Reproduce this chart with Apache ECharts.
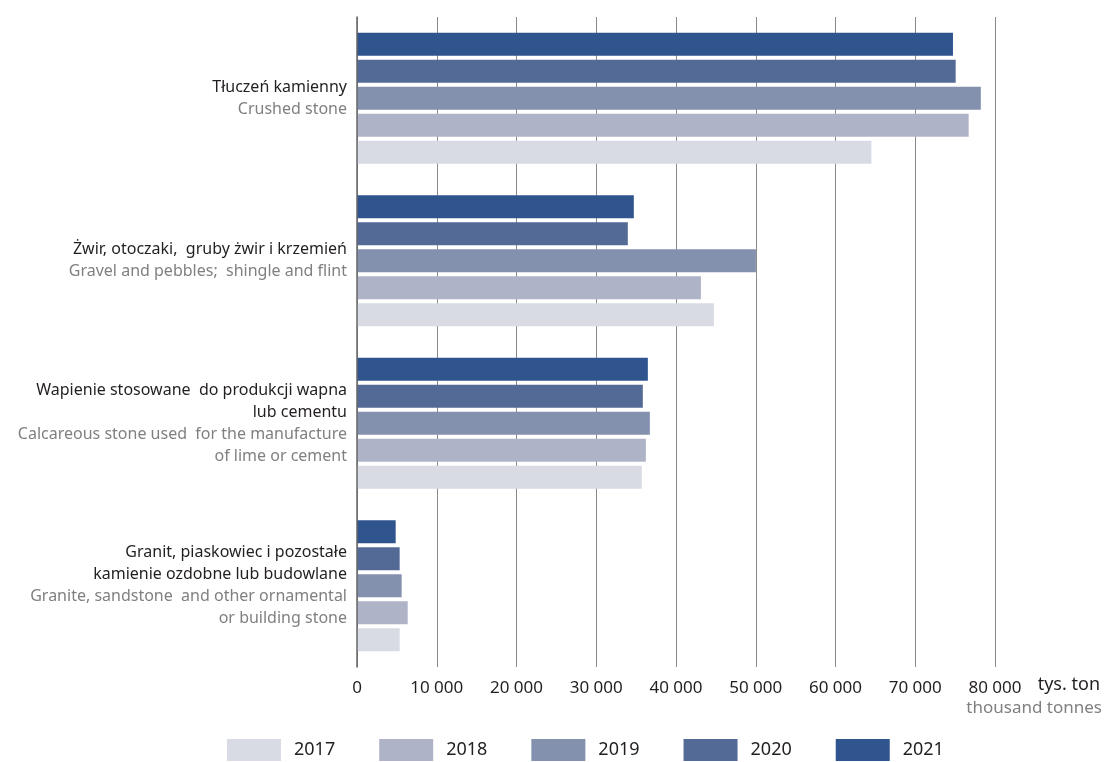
<!DOCTYPE html>
<html>
<head>
<meta charset="utf-8">
<script src="https://cdn.jsdelivr.net/npm/echarts@6/dist/echarts.min.js"></script>
<style>
html,body{margin:0;padding:0;background:#fff;}
#c{width:1106px;height:762px;}
</style>
</head>
<body>
<div id="c"></div>
<script>
const categories = ['crushed', 'gravel', 'calcareous', 'granite'];
const plLabels = [
  'Tłuczeń kamienny',
  'Żwir, otoczaki,  gruby żwir i krzemień',
  'Wapienie stosowane  do produkcji wapna\nlub cementu',
  'Granit, piaskowiec i pozostałe\nkamienie ozdobne lub budowlane'
];
const enLabels = [
  'Crushed stone',
  'Gravel and pebbles;  shingle and flint',
  'Calcareous stone used  for the manufacture\nof lime or cement',
  'Granite, sandstone  and other ornamental\nor building stone'
];
const years = ['2017', '2018', '2019', '2020', '2021'];
const v2017 = [64500, 44750, 35710, 5350];
const v2018 = [76700, 43120, 36220, 6360];
const v2019 = [78220, 50020, 36720, 5600];
const v2020 = [75070, 33960, 35840, 5350];
const v2021 = [74730, 34710, 36470, 4850];
const xTicks = [0, 10000, 20000, 30000, 40000, 50000, 60000, 70000, 80000];
const unitPl = 'tys. ton';
const unitEn = 'thousand tonnes';

const colors = {'2017':'#d8dbe4','2018':'#aeb3c7','2019':'#8390ae','2020':'#536a97','2021':'#2f548e'};
const valuesByYear = {'2017':v2017,'2018':v2018,'2019':v2019,'2020':v2020,'2021':v2021};
const FONT = 'Noto Sans';

const fmt = n => String(n).replace(/\B(?=(\d{3})+(?!\d))/g, ' ');

const seriesOrder = ['2021','2020','2019','2018','2017'];
const series = seriesOrder.map(y => ({
  name: y,
  type: 'bar',
  data: valuesByYear[y],
  barWidth: 23,
  barGap: '17.4%',
  itemStyle: {color: colors[y]},
  emphasis: {disabled: true}
}));

const chart = echarts.init(document.getElementById('c'), null, {renderer: 'canvas'});
chart.setOption({
  backgroundColor: '#ffffff',
  animation: false,
  color: years.map(y => colors[y]),
  textStyle: {fontFamily: FONT},
  grid: {left: 357, right: 111, top: 17, bottom: 95, containLabel: false},
  legend: {
    data: years,
    left: 222,
    top: 734,
    itemWidth: 54,
    itemHeight: 22,
    itemGap: 44,
    icon: 'rect',
    textStyle: {fontFamily: FONT, fontSize: 18, color: '#231f20', padding: [0,0,0,8]}
  },
  xAxis: {
    type: 'value',
    min: xTicks[0],
    max: xTicks[xTicks.length - 1],
    interval: xTicks[1] - xTicks[0],
    axisLine: {show: false},
    axisTick: {show: false},
    splitLine: {show: true, lineStyle: {color: '#8a8a8a', width: 1}},
    axisLabel: {
      fontFamily: FONT, fontSize: 17, color: '#231f20', margin: 13,
      formatter: v => fmt(v)
    }
  },
  yAxis: {
    type: 'category',
    data: categories,
    inverse: true,
    z: 5,
    axisLine: {show: true, lineStyle: {color: '#666', width: 1.5}},
    axisTick: {show: false},
    axisLabel: {
      margin: 10,
      formatter: (v, i) => {
        const idx = categories.indexOf(v);
        const pl = plLabels[idx].split('\n').map(s => '{pl|' + s + '}');
        const en = enLabels[idx].split('\n').map(s => '{en|' + s + '}');
        return pl.concat(en).join('\n');
      },
      rich: {
        pl: {fontFamily: FONT, fontSize: 16, color: '#231f20', lineHeight: 22, align: 'right'},
        en: {fontFamily: FONT, fontSize: 16, color: '#808080', lineHeight: 22, align: 'right'}
      }
    }
  },
  graphic: [
    {type: 'text', right: 6, top: 676, style: {text: unitPl, fontFamily: FONT, fontSize: 18, fill: '#231f20'}},
    {type: 'text', right: 4, top: 700, style: {text: unitEn, fontFamily: FONT, fontSize: 17, fill: '#808080'}}
  ],
  series: series
});
</script>
</body>
</html>
